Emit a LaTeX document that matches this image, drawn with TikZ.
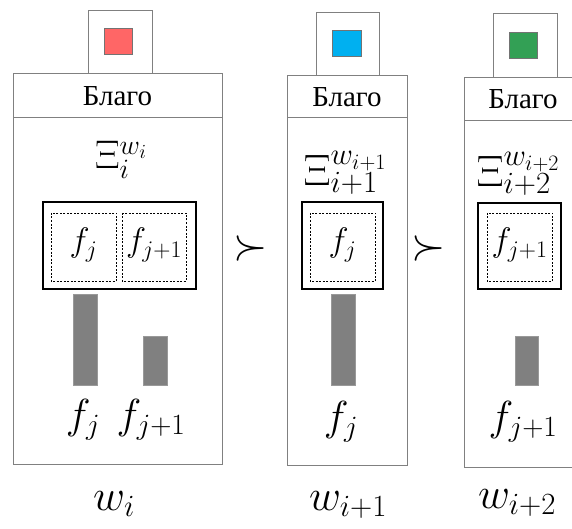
\RequirePackage{fix-cm}
\documentclass[tikz,border=0pt]{standalone}
\usepackage[no-math]{fontspec}
\setmainfont{Liberation Serif}
\definecolor{framegray}{RGB}{128,128,128}
\definecolor{bargray}{RGB}{128,128,128}
\definecolor{swred}{RGB}{255,102,102}
\definecolor{swblue}{RGB}{0,176,240}
\definecolor{swgreen}{RGB}{51,160,85}

\begin{document}
\begin{tikzpicture}[x=1pt,y=-1pt,
  frame/.style={draw=framegray, line width=0.9pt},
  inbox/.style={draw=black, line width=1.3pt},
  dbox/.style={draw=black, line width=0.7pt, dash pattern=on 2pt off 1.5pt},
  swatch/.style={draw=black!55, line width=0.8pt},
  bar/.style={fill=bargray, draw=bargray!80, line width=0.5pt},
  hdr/.style={font=\fontsize{29}{32}\selectfont},
  lab/.style={font=\fontsize{#1}{#1}\selectfont, anchor=base},
  cel/.style={font=\fontsize{#1}{#1}\selectfont}]
\tikzstyle{every node}+=[inner sep=0pt]
\useasboundingbox (0,0) rectangle (572,529);
\clip (0,0) rectangle (572,529);
\draw [frame] (88,10) rectangle (152,73);
\draw [swatch, fill=swred] (104,28) rectangle (132,54);
\draw [frame] (13,73) rectangle (222,117);
\node [hdr] (blagoA) at (117.5,96) {Благо};
\draw [frame] (13,117) rectangle (222,464);
\node [lab=40] (xiA) at (121,169) {$\Xi_i^{w_i}$};
\draw [inbox] (43,202) rectangle (196,289);
\draw [dbox] (51,213) rectangle (116,281);
\node [cel=34] (fA1) at (83.5,245) {$f_j$};
\draw [dbox] (122,213) rectangle (186,281);
\node [cel=34] (fA2) at (154,245) {$f_{j+1}$};
\draw [bar] (73,294) rectangle (97,385);
\draw [bar] (143,336) rectangle (167,385);
\node [lab=42] (fjA) at (83,428) {$f_j$};
\node [lab=42] (fkA) at (151,428) {$f_{j+1}$};
\node [lab=44] (wA) at (114,510) {$w_i$};
\node [cel=44] (succA) at (251,248) {$\succ$};
\draw [frame] (316,12) rectangle (379,75);
\draw [swatch, fill=swblue] (332,30) rectangle (361,56);
\draw [frame] (287,75) rectangle (407,117);
\node [hdr] (blagoB) at (347,97) {Благо};
\draw [frame] (287,117) rectangle (407,465);
\node [lab=44] (xiB) at (345,186) {$\Xi_{i+1}^{w_{i+1}}$};
\draw [inbox] (302,202) rectangle (383,289);
\draw [dbox] (310,213) rectangle (375,281);
\node [cel=34] (fB1) at (342.5,245) {$f_j$};
\draw [bar] (331,294) rectangle (355,385);
\node [lab=42] (fjB) at (341,430) {$f_j$};
\node [lab=44] (wB) at (348,510) {$w_{i+1}$};
\node [cel=44] (succB) at (429,248) {$\succ$};
\draw [frame] (493,13) rectangle (557,77);
\draw [swatch, fill=swgreen] (509,32) rectangle (537,58);
\draw [frame] (464,77) rectangle (582,120);
\node [hdr] (blagoC) at (523,99) {Благо};
\draw [frame] (464,120) rectangle (582,467);
\node [lab=44] (xiC) at (518,187) {$\Xi_{i+2}^{w_{i+2}}$};
\draw [inbox] (478,203) rectangle (561,289);
\draw [dbox] (487,213) rectangle (552,281);
\node [cel=34] (fC1) at (519.5,245) {$f_{j+1}$};
\draw [bar] (515,336) rectangle (538,385);
\node [lab=42] (fkC) at (523,430) {$f_{j+1}$};
\node [lab=44] (wC) at (517,508) {$w_{i+2}$};
\end{tikzpicture}
\end{document}
